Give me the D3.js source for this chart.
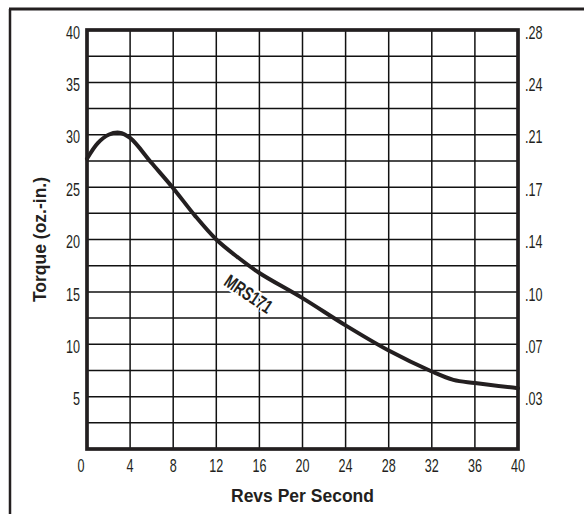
<!DOCTYPE html>
<html><head><meta charset="utf-8">
<script src="https://cdn.jsdelivr.net/npm/d3@7"></script>
<style>
body{margin:0;background:#fff;}
svg{display:block;}
.tick-l{font-family:"Liberation Sans",Arial,sans-serif;font-size:17.5px;fill:#231f20;}
.title{font-family:"Liberation Sans",Arial,sans-serif;font-weight:bold;font-size:17.5px;fill:#231f20;}
</style></head>
<body>
<script>
const revs   = [0, 1, 2, 3, 4, 6, 8, 10, 12, 14, 16, 20, 24, 28, 32, 34, 36, 40];
const torque = [27.7, 29.2, 30.0, 30.2, 29.7, 27.3, 24.9, 22.3, 20.0, 18.3, 16.8, 14.4, 11.8, 9.4, 7.4, 6.6, 6.3, 5.8];
const xTicks = [0, 4, 8, 12, 16, 20, 24, 28, 32, 36, 40];
const yTicks = [5, 10, 15, 20, 25, 30, 35, 40];
const yTicksRight = [".03", ".07", ".10", ".14", ".17", ".21", ".24", ".28"];
const seriesLabel = "MRS171";

const W = 584, H = 514;
const m = {left: 87, right: 518, top: 30, bottom: 449};
const ink = "#231f20";
const SX = 0.72; // horizontal condensing for narrow type

const svg = d3.select("body").append("svg").attr("width", W).attr("height", H);

// outer frame (left + top visible)
svg.append("line").attr("x1", 10).attr("x2", 10).attr("y1", 9).attr("y2", H + 5)
  .attr("stroke", ink).attr("stroke-width", 2.5);
svg.append("line").attr("x1", 9).attr("x2", W + 5).attr("y1", 9).attr("y2", 9)
  .attr("stroke", ink).attr("stroke-width", 3);

const x = d3.scaleLinear().domain([0, 40]).range([m.left, m.right]);
const y = d3.scaleLinear().domain([0, 40]).range([m.bottom, m.top]);

// grid
const g = svg.append("g");
g.selectAll(".vg").data(d3.range(4, 40, 4)).join("line")
  .attr("x1", d => x(d)).attr("x2", d => x(d)).attr("y1", m.top).attr("y2", m.bottom)
  .attr("stroke", "#111").attr("stroke-width", 1.5);
g.selectAll(".hg").data(d3.range(2.5, 40, 2.5)).join("line")
  .attr("x1", m.left).attr("x2", m.right).attr("y1", d => y(d)).attr("y2", d => y(d))
  .attr("stroke", "#111").attr("stroke-width", 1.5);

// plot frame
svg.append("rect").attr("x", m.left).attr("y", m.top)
  .attr("width", m.right - m.left).attr("height", m.bottom - m.top)
  .attr("fill", "none").attr("stroke", ink).attr("stroke-width", 3.7);

// series label (white halo hides grid behind it)
svg.append("text").attr("class", "tick-l")
  .attr("transform", `translate(${x(15.0)},${y(14.8)}) rotate(34) scale(${SX},1)`)
  .attr("text-anchor", "middle").attr("dy", "0.35em")
  .style("font-size", "19px").style("font-weight", "bold")
  .attr("stroke", "#fff").attr("stroke-width", 4).attr("paint-order", "stroke")
  .text(seriesLabel);

// curve
const line = d3.line().x(d => x(d[0])).y(d => y(d[1])).curve(d3.curveCatmullRom.alpha(0.5));
svg.append("path").datum(revs.map((r, i) => [r, torque[i]]))
  .attr("d", line).attr("fill", "none").attr("stroke", ink)
  .attr("stroke-width", 4).attr("stroke-linecap", "round").attr("stroke-linejoin", "round");

// left tick labels
svg.selectAll(".yl").data(yTicks).join("text").attr("class", "tick-l")
  .attr("transform", d => `translate(${m.left - 7},${y(d) + 2.5}) scale(${SX},1)`)
  .attr("dy", "0.35em").attr("text-anchor", "end").text(d => d);

// right tick labels
svg.selectAll(".yr").data(yTicks).join("text").attr("class", "tick-l")
  .attr("transform", d => `translate(${m.right + 7},${y(d) + 2.5}) scale(${SX},1)`)
  .attr("dy", "0.35em").attr("text-anchor", "start").text((d, i) => yTicksRight[i]);

// bottom tick labels
svg.selectAll(".xl").data(xTicks).join("text").attr("class", "tick-l")
  .attr("transform", d => `translate(${x(d) - (d === 0 ? 6 : 0)},472) scale(${SX},1)`)
  .attr("text-anchor", "middle").text(d => d);

// axis titles
svg.append("text").attr("class", "title")
  .attr("x", x(20)).attr("y", 502).attr("text-anchor", "middle").text("Revs Per Second");
svg.append("text").attr("class", "title")
  .attr("transform", `translate(46,${(m.top + m.bottom) / 2}) rotate(-90)`)
  .attr("text-anchor", "middle").text("Torque (oz.-in.)");
</script>
</body></html>
